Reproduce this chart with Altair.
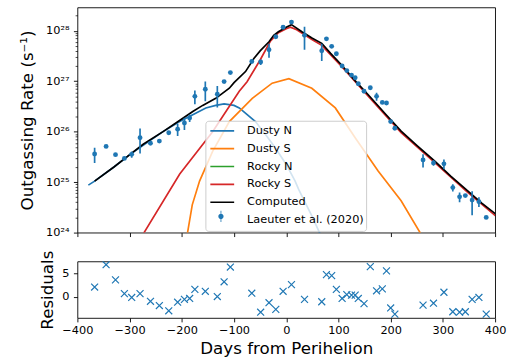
import altair as alt
import pandas as pd

FONT = "DejaVu Sans"

# ---------------- observations ----------------
days = [-367, -345, -327, -310, -296, -280, -260, -243, -225, -208, -195, -185, -175,
        -155, -132, -119, -107, -66, -49, -33, -20, -6, 10, 35, 68, 77, 87, 96, 107,
        116, 125, 132, 138, 149, 161, 173, 184, 192, 200, 208, 262, 282, 302, 319,
        332, 343, 356, 369, 383]
rates = [3.6e25, 5.1e25, 3.5e25, 2.95e25, 3.55e25, 7.6e25, 5.9e25, 6.5e25, 9.5e25,
         1.12e26, 1.48e26, 1.86e26, 5.0e26, 6.9e26, 5.5e26, 9.8e26, 1.48e27, 2.45e27,
         2.4e27, 4.2e27, 7.6e27, 1.17e28, 1.48e28, 8.1e27, 4.0e27, 6.9e27, 4.9e27,
         3.5e27, 2.0e27, 1.62e27, 1.32e27, 1.17e27, 8.9e26, 6.3e26, 7.4e26, 5.0e26,
         3.8e26, 3.7e26, 1.58e26, 1.17e26, 2.75e25, 2.4e25, 2.3e25, 7.8e24, 5.1e24,
         5.4e24, 4.4e24, 4.1e24, 2.0e24]
rate_err = [1.2e25, 0, 0, 0, 0.5e25, 3.9e25, 0.4e25, 0.5e25, 0, 0.3e26, 0.4e26, 0.3e26,
            1.5e26, 2.9e26, 2.5e26, 0, 0, 0, 0.3e27, 1.3e27, 0, 0, 0, 3.9e27, 1.5e27,
            0, 0, 0.3e27, 0, 0, 0, 0, 0, 0, 0, 0.9e26, 0, 0, 0, 0, 0.8e25, 0.3e25,
            0.5e25, 1.3e24, 1.1e24, 0, 2.2e24, 0.9e24, 0]
residuals = [2.1, 6.8, 3.6, 0.7, -0.1, 0.7, -0.9, -1.8, -2.9, -1.1, -0.5, -0.3, 1.6,
             1.2, 0.1, 3.2, 6.3, 0.8, -3.2, -1.2, -2.6, 1.2, 2.6, -0.5, -1.0, 4.7, 4.5,
             1.6, -0.3, 0.5, 0.4, 0.4, -0.3, -1.4, 6.4, 1.3, 1.7, 5.5, -2.3, -3.6, -1.7,
             -1.3, 1.0, -3.1, -3.2, -3.1, -0.5, -0.1, -3.6]

# ---------------- model curves (log10 of rate) ----------------
dusty_n_days = [-379, -367, -330, -299, -270, -236, -204, -180, -154, -135, -119, -100,
                -90, -59, -40, -21, 0, 17, 24, 49, 65, 80]
dusty_n_log = [24.94, 25.02, 25.3, 25.55, 25.76, 26.0, 26.2, 26.33, 26.47, 26.52, 26.55,
               26.52, 26.47, 26.2, 25.95, 25.68, 25.35, 25.02, 24.85, 24.33, 23.97, 23.6]
dusty_s_days = [-195, -189, -180, -166, -141, -109, -65, -27, 5, 49, 94, 132, 176, 220,
                258, 270]
dusty_s_log = [23.5, 24.0, 24.55, 25.02, 25.61, 26.2, 26.66, 26.96, 27.05, 26.86, 26.47,
               25.88, 25.22, 24.63, 23.97, 23.75]
rocky_s_days = [-300, -274, -204, -141, -90, -75, -50, -30, -15, 0, 8, 20, 50, 68, 106,
                157, 220, 284, 347, 401]
rocky_s_log = [23.55, 23.97, 25.16, 26.0, 26.8, 26.99, 27.42, 27.8, 27.96, 28.04, 28.07,
               28.02, 27.82, 27.71, 27.29, 26.7, 25.98, 25.39, 24.8, 24.33]
computed_days = [-367, -330, -299, -274, -236, -210, -179, -160, -135, -109, -100, -78,
                 -62, -50, -33, -24, -15, 0, 10, 30, 50, 68, 85, 106, 130, 157, 190, 220,
                 250, 284, 315, 347, 375, 401]
computed_log = [25.02, 25.3, 25.55, 25.75, 26.0, 26.18, 26.4, 26.52, 26.66, 26.86, 26.97,
                27.19, 27.45, 27.6, 27.78, 27.91, 27.98, 28.07, 28.12, 27.98, 27.85, 27.75,
                27.55, 27.32, 27.03, 26.73, 26.35, 26.01, 25.73, 25.42, 25.12, 24.83,
                24.58, 24.37]

legend_names = ["Dusty N", "Dusty S", "Rocky N", "Rocky S", "Computed",
                "Laeuter et al. (2020)"]
legend_colors = ["#1f77b4", "#ff7f0e", "#2ca02c", "#d62728", "#000000", "rgba(0,0,0,0)"]

x_ticks = list(range(-400, 401, 100))
y_major_exp = [24, 25, 26, 27, 28]
y_major_labels = ["10²⁴", "10²⁵", "10²⁶", "10²⁷", "10²⁸"]
y_top = 2.9e28
resid_ticks = [0, 5]
resid_domain = [-4.4, 7.5]

# ---------------- tables ----------------
obs = pd.DataFrame({"day": days, "rate": rates, "err": rate_err, "resid": residuals})
obs["lo"] = obs["rate"] - obs["err"]
obs["hi"] = obs["rate"] + obs["err"]
obs["src"] = "Laeuter et al. (2020)"
obs_err = obs[obs["err"] > 0]


def curve(name, d, lg):
    return pd.DataFrame({"day": d, "rate": [10.0 ** v for v in lg], "series": name})


curves = [
    curve("Dusty N", dusty_n_days, dusty_n_log),
    curve("Dusty S", dusty_s_days, dusty_s_log),
    curve("Rocky S", rocky_s_days, rocky_s_log),
    curve("Computed", computed_days, computed_log),
]

major_vals = [float("1e%d" % e) for e in y_major_exp]
minor_vals = []
for e in y_major_exp:
    for k in range(2, 10):
        v = k * float("1e%d" % e)
        if v <= y_top:
            minor_vals.append(v)
y_vals = sorted(major_vals + minor_vals)

label_expr = " : ".join(
    "datum.value == %r ? '%s'" % (v, lab) for v, lab in zip(major_vals, y_major_labels)
) + " : ''"
major_test = " || ".join("datum.value == %r" % v for v in major_vals)

XPATH = "M-1,-1L1,1M-1,1L1,-1"
ERRPATH = ("M-0.034,-0.47L0.034,-0.47L0.034,-0.19L-0.034,-0.19Z "
           "M-0.034,0.19L0.034,0.19L0.034,0.47L-0.034,0.47Z "
           "M-0.22,0A0.22,0.22,0,1,1,0.22,0A0.22,0.22,0,1,1,-0.22,0Z")

ROW_H = 17.25

# ---------------- encodings ----------------
x_scale = alt.Scale(domain=[-400, 400], nice=False, zero=False)
top_x = alt.X("day:Q", scale=x_scale,
              axis=alt.Axis(values=x_ticks, labels=False, title=None, tickSize=4,
                            tickWidth=0.9, domain=False, grid=False))
y_scale = alt.Scale(type="log", domain=[1e24, y_top], nice=False)
y_axis = alt.Axis(values=y_vals, labelExpr=label_expr, labelOverlap=False,
                  tickSize={"condition": {"test": major_test, "value": 4}, "value": 2.3},
                  tickWidth={"condition": {"test": major_test, "value": 0.9}, "value": 0.7},
                  labelPadding=4.5, domain=False, grid=False,
                  title="Outgassing Rate (s⁻¹)", titleX=-50, titleY=113.5, titleAngle=-90,
                  titleAlign="center", titleBaseline="middle")

color_scale = alt.Scale(domain=legend_names, range=legend_colors)
line_legend = alt.Legend(title=None, orient="none", legendX=129, legendY=114.3,
                         symbolType="stroke", symbolSize=576, symbolStrokeWidth=1.7,
                         symbolOffset=2.5, clipHeight=ROW_H,
                         labelFont=FONT, labelFontSize=11.4, labelColor="black",
                         labelOffset=12, labelLimit=0, rowPadding=0, padding=1.5,
                         fillColor="rgba(255,255,255,0.8)", strokeColor="#cccccc",
                         cornerRadius=3)
pt_legend = alt.Legend(title=None, orient="none", legendX=132.7, legendY=202.1,
                       symbolType=ERRPATH, symbolSize=576, symbolStrokeWidth=0,
                       clipHeight=ROW_H,
                       labelExpr="' '", labelOpacity=0, labelFontSize=11.4, padding=0)

line_layers = [
    alt.Chart(df).mark_line(strokeWidth=1.7, clip=True).encode(
        x=top_x,
        y=alt.Y("rate:Q", scale=y_scale, axis=y_axis),
        color=alt.Color("series:N", scale=color_scale, legend=line_legend),
    )
    for df in curves
]

err_layer = alt.Chart(obs_err).mark_rule(strokeWidth=1.7, color="#1f77b4", clip=True).encode(
    x=top_x,
    y=alt.Y("lo:Q", scale=y_scale, axis=y_axis),
    y2="hi:Q",
)

pt_layer = alt.Chart(obs).mark_circle(size=24, opacity=1, clip=True).encode(
    x=top_x,
    y=alt.Y("rate:Q", scale=y_scale, axis=y_axis),
    fill=alt.Fill("src:N", scale=alt.Scale(domain=["Laeuter et al. (2020)"],
                                           range=["#1f77b4"]), legend=pt_legend),
)

top = alt.layer(*line_layers, err_layer, pt_layer).properties(width=421, height=227)

bottom = alt.Chart(obs).mark_point(shape=XPATH, size=49, filled=False, strokeWidth=1.2,
                                   color="#1f77b4", opacity=1, clip=True).encode(
    x=alt.X("day:Q", scale=x_scale,
            axis=alt.Axis(values=x_ticks, title="Days from Perihelion", tickSize=4,
                          tickWidth=0.9, labelFlush=False, labelPadding=2.5,
                          domain=False, grid=False, titleX=210.5, titleY=36,
                          titleAlign="center", titleBaseline="alphabetic")),
    y=alt.Y("resid:Q", scale=alt.Scale(domain=resid_domain, nice=False, zero=False),
            axis=alt.Axis(values=resid_ticks, title="Residuals", tickSize=4,
                          tickWidth=0.9, labelPadding=4.5, domain=False, grid=False,
                          titleX=-30, titleY=28.5, titleAngle=-90, titleAlign="center",
                          titleBaseline="middle")),
).properties(width=421, height=57)

chart = alt.vconcat(top, bottom, spacing=29, bounds="flush").properties(
    padding={"left": 19, "top": 5, "right": 0, "bottom": 0}
).configure(font=FONT).configure_view(
    stroke="black", strokeWidth=0.9
).configure_axis(
    labelFont=FONT, labelFontSize=11.4, labelColor="black", tickColor="black",
    titleFont=FONT, titleFontSize=16.8, titleFontWeight="normal", titleColor="black",
)

chart.save("out.html", embed_options={"renderer": "svg", "actions": False})
